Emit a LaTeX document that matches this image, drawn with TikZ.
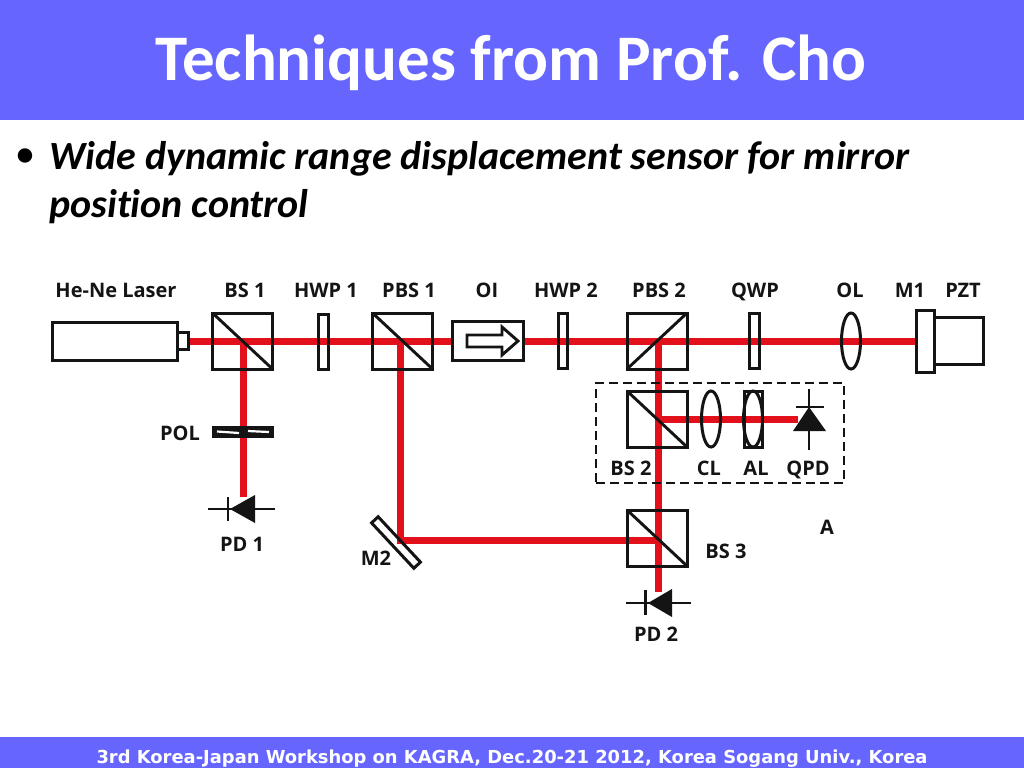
\documentclass[tikz,border=0pt]{standalone}
\usepackage{fontspec}
\usetikzlibrary{shapes.geometric,calc}
\setmainfont[Ligatures=NoCommon,Kerning=On]{Carlito}
\newfontfamily\lblfont{Open Sans}
\newfontfamily\footfont{DejaVu Sans}
\definecolor{headblue}{RGB}{102,102,255}
\definecolor{beamred}{RGB}{226,16,26}
\definecolor{ink}{RGB}{20,20,20}
\tikzset{
  x=1pt,y=-1pt,
  optic/.style={draw=ink,line width=3pt,inner sep=0pt,outer sep=0pt,rectangle},
  cube/.style={optic,minimum width=60pt,minimum height=56pt},
  plate/.style={optic,minimum width=9.5pt,minimum height=55pt},
  lens/.style={draw=ink,line width=3pt,ellipse,inner sep=0pt,outer sep=0pt,minimum width=19pt,minimum height=56pt},
  beam/.style={draw=beamred,line width=7pt},
  wire/.style={draw=ink,line width=2.9pt},
  lbl/.style={font=\lblfont\fontsize{20}{20}\selectfont\bfseries,text=ink,inner sep=0pt,anchor=base},
}
\begin{document}
\begin{tikzpicture}
\useasboundingbox (0,0) rectangle (1024,768);
\fill[white] (0,0) rectangle (1024,768);
\node[fill=headblue,minimum width=1024pt,minimum height=120pt,inner sep=0pt,anchor=north west] (header) at (0,0) {};
\node[fill=headblue,minimum width=1024pt,minimum height=31pt,inner sep=0pt,anchor=north west] (footer) at (0,737) {};
\node[text=white,font=\fontsize{65}{65}\selectfont\bfseries,inner sep=0pt,anchor=base] (title) at (511,80) {Techniques from Prof. Cho};
\node[font=\fontsize{34}{34}\selectfont\bfseries,text=black,inner sep=0pt] (bullet) at (25,157) {•};
\node[font=\fontsize{40}{40}\selectfont\bfseries\itshape,text=black,inner sep=0pt,anchor=base west] (line1) at (49,169) {Wide dynamic range displacement sensor for mirror};
\node[font=\fontsize{40}{40}\selectfont\bfseries\itshape,text=black,inner sep=0pt,anchor=base west] (line2) at (49,217) {position control};
\node[text=white,font=\footfont\fontsize{17.9}{18}\selectfont\bfseries,inner sep=0pt,anchor=base] (foot) at (512,763) {3rd Korea-Japan Workshop on KAGRA, Dec.20-21 2012, Korea Sogang Univ., Korea};
% beam waypoints
\coordinate (bsa) at (243,341);
\coordinate (pbsa) at (400,341);
\coordinate (pbsb) at (658,341);
\coordinate (mtwo) at (400,540);
\coordinate (bsbc) at (658,419);
\coordinate (bsc) at (658,540);
\coordinate (pdaend) at (243,497);
\coordinate (pdbend) at (658,592);
\coordinate (qpdend) at (798,419);
\coordinate (nubout) at (188,341);
\coordinate (monein) at (916,341);
% beams
\draw[beam] (nubout) -- (monein);
\draw[beam] (bsa) -- (pdaend);
\draw[beam] (pbsa) -- (mtwo) -- (bsc);
\draw[beam] (pbsb) -- (pdbend);
\draw[beam] (bsbc) -- (qpdend);
% laser
\node[optic,minimum width=125pt,minimum height=38pt] (laser) at (114.5,341) {};
\node[optic,minimum width=11pt,minimum height=17pt,fill=white] (nub) at (182.5,341) {};
% cubes
\node[cube] (bs1) at (242.5,341) {};
\draw[wire] (bs1.north west) -- (bs1.south east);
\node[plate] (hwp1) at (323.5,341.5) {};
\node[cube] (pbs1) at (402.5,341) {};
\draw[wire] (pbs1.north west) -- (pbs1.south east);
\node[optic,minimum width=71pt,minimum height=39pt,fill=white] (oi) at (487.5,340.5) {};
\draw[wire,line join=miter] (467,335) -- (502,335) -- (502,327) -- (518,341) -- (502,355) -- (502,347) -- (467,347) -- cycle;
\node[plate] (hwp2) at (563,341) {};
\node[cube] (pbs2) at (657,341) {};
\draw[wire] (pbs2.south west) -- (pbs2.north east);
\node[plate] (qwp) at (754.5,340.5) {};
\node[lens] (ol) at (851,341) {};
\node[optic,minimum width=18pt,minimum height=62pt] (m1) at (925,341) {};
\node[optic,minimum width=49pt,minimum height=47pt,anchor=west] (pzt) at (m1.east) {};
% dashed box
\node[draw=ink,line width=2.9pt,dash pattern=on 9pt off 5pt,inner sep=0pt,minimum width=248pt,minimum height=100pt] (boxa) at (720,433) {};
\node[cube] (bs2) at (657,419) {};
\draw[wire] (bs2.north west) -- (bs2.south east);
\node[lens] (cl) at (711,419) {};
\node[lens] (al) at (753,419) {};
\node[optic,minimum width=18pt,minimum height=56pt] (alframe) at (753,419) {};
% QPD
\draw[wire] (809,389) -- (809,450);
\draw[wire] (796,407) -- (824,407);
\fill[ink] (809,407) -- (826,431) -- (793,431) -- cycle;
% BS3
\node[cube] (bs3) at (657,538) {};
\draw[wire] (bs3.north west) -- (bs3.south east);
% POL
\node[optic,fill=ink,minimum width=59pt,minimum height=9pt] (pol) at (243,432) {};
\draw[white,line width=2.2pt] (217,431.5) -- (239,433);
\draw[white,line width=2.2pt] (248,431) -- (269,432);
% PD1
\draw[wire] (208,509) -- (275,509);
\draw[wire] (228,497) -- (228,521);
\fill[ink] (230,509) -- (255,495) -- (255,523) -- cycle;
% PD2
\draw[wire] (626,603) -- (691,603);
\draw[wire] (645.5,590) -- (645.5,615);
\fill[ink] (648,603) -- (672,589) -- (672,617) -- cycle;
% M2
\node[optic,minimum width=62pt,minimum height=9pt,rotate=-47] (m2) at (396,542.5) {};
% labels
\node[lbl] (lhene) at (116,297.5) {He-Ne Laser};
\node[lbl] (lbs1) at (245,297.5) {BS 1};
\node[lbl] (lhwp1) at (326,297.5) {HWP 1};
\node[lbl] (lpbs1) at (409,297.5) {PBS 1};
\node[lbl] (loi) at (487,297.5) {OI};
\node[lbl] (lhwp2) at (566,297.5) {HWP 2};
\node[lbl] (lpbs2) at (659,297.5) {PBS 2};
\node[lbl] (lqwp) at (755,297.5) {QWP};
\node[lbl] (lol) at (850,297.5) {OL};
\node[lbl] (lm1) at (910,297.5) {M1};
\node[lbl] (lpzt) at (963,297.5) {PZT};
\node[lbl] (lbs2) at (631,475.5) {BS 2};
\node[lbl] (lcl) at (709,475.5) {CL};
\node[lbl] (lal) at (756,475.5) {AL};
\node[lbl] (lqpd) at (808,475.5) {QPD};
\node[lbl] (lpol) at (180,440.5) {POL};
\node[lbl] (lpd1) at (242,551.5) {PD 1};
\node[lbl] (lm2) at (376,565.5) {M2};
\node[lbl] (lbs3) at (726,558.5) {BS 3};
\node[lbl] (lpd2) at (656,641.5) {PD 2};
\node[lbl] (la) at (827,534.5) {A};
\end{tikzpicture}
\end{document}
